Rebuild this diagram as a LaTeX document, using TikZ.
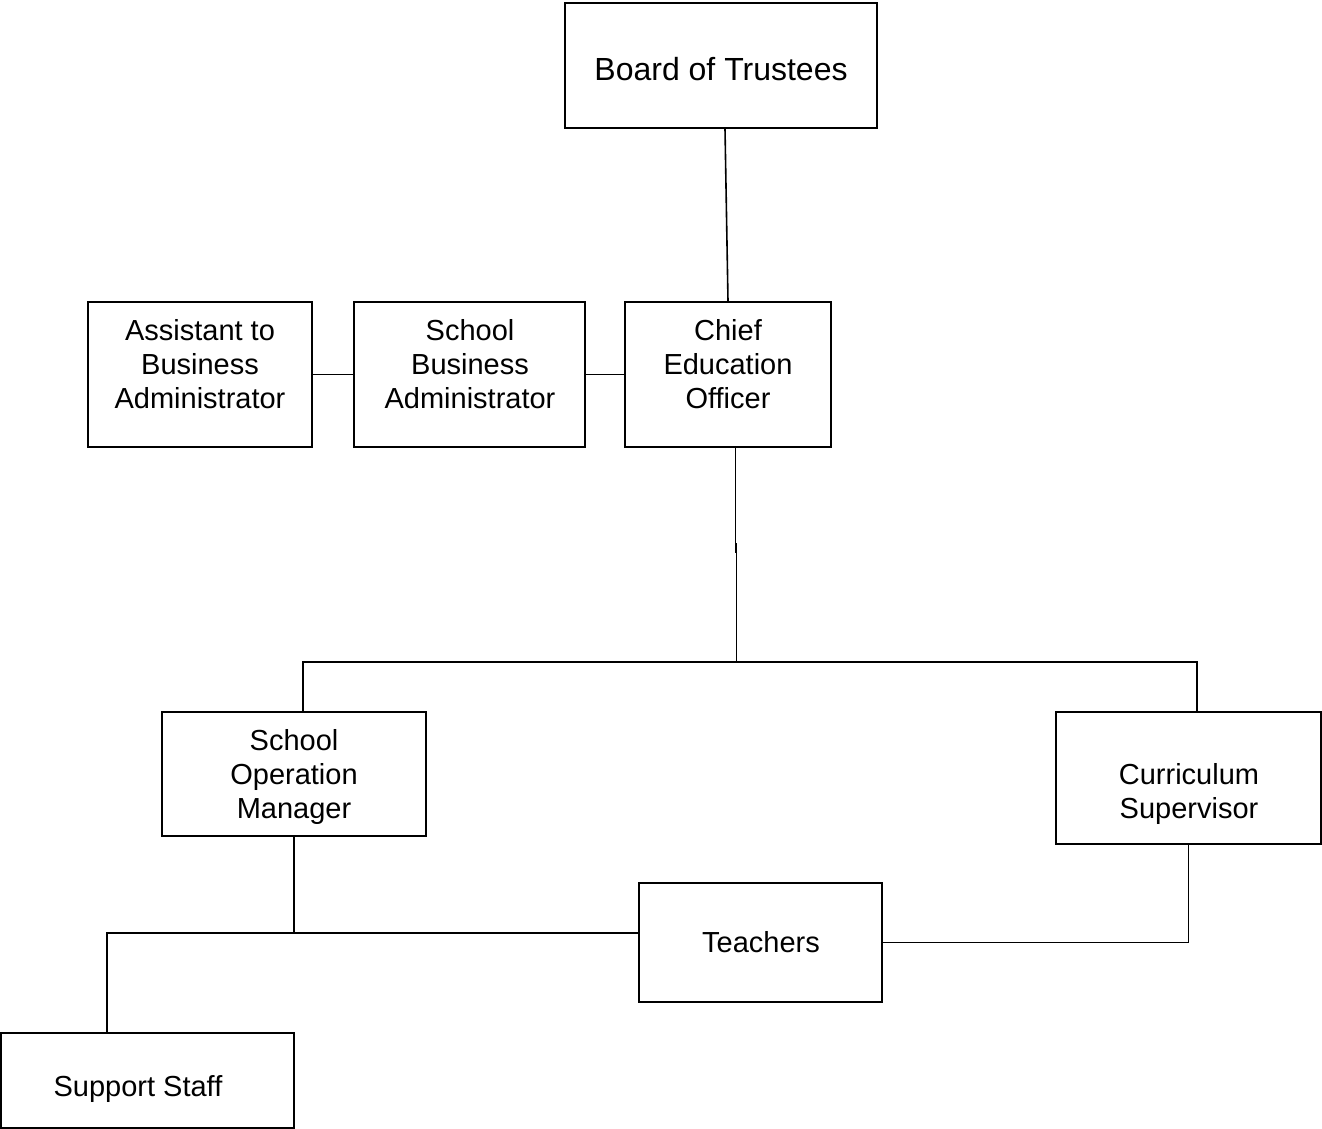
\documentclass[tikz,border=0pt]{standalone}
\usepackage{fontspec}
\setmainfont{Liberation Sans}
\usetikzlibrary{calc}
\tikzset{
  box/.style={draw=black, line width=1.5pt, rectangle, inner sep=0pt},
  txt/.style={align=center, inner sep=0pt, font=\fontsize{29}{34}\selectfont},
  conn/.style={draw=black, line width=1.6pt},
}
\begin{document}
\begin{tikzpicture}[x=1pt,y=-1pt]
\useasboundingbox (0,0) rectangle (1322,1129);
% boxes
\node[box, minimum width=312pt, minimum height=125pt] (bot) at (721,65.5) {};
\node[box, minimum width=224pt, minimum height=145pt] (asst) at (200,374.5) {};
\node[box, minimum width=231pt, minimum height=145pt] (sba) at (469.5,374.5) {};
\node[box, minimum width=206pt, minimum height=145pt] (ceo) at (728,374.5) {};
\node[box, minimum width=264pt, minimum height=124pt] (som) at (294,774) {};
\node[box, minimum width=265pt, minimum height=132pt] (cs) at (1188.5,778) {};
\node[box, minimum width=243pt, minimum height=119pt] (teach) at (760.5,942.5) {};
\node[box, minimum width=293pt, minimum height=95pt] (ss) at (147.5,1080.5) {};
% texts
\node[txt, font=\fontsize{32}{38}\selectfont] (bott) at (721,69) {Board of Trustees};
\node[txt] (asstt) at (200,364) {Assistant to\\Business\\Administrator};
\node[txt] (sbat) at (470,364) {School\\Business\\Administrator};
\node[txt] (ceot) at (728,364) {Chief\\Education\\Officer};
\node[txt] (somt) at (294,777) {School\\Operation\\Manager};
\node[txt] (cst) at (1189,794) {Curriculum\\Supervisor};
\node[txt] (teacht) at (761,942) {Teachers};
\node[txt] (sst) at (138,1089) {Support Staff};
% connectors
\coordinate (br) at (736.5,662);
\coordinate (mid1) at (735.5,553);
\coordinate (mid2) at (736.5,543);
\coordinate (j) at (294,933);
\draw[conn] ($(bot.south)+(4,0)$) -- (ceo.north);
\draw[conn] (asst.east) -- (sba.west);
\draw[conn] (sba.east) -- (ceo.west);
\draw[conn] ($(ceo.south)+(7.5,0)$) -- (mid1);
\draw[conn] (mid2) -- (br);
\draw[conn] ($(som.north)+(9,0)$) |- (br) -| ($(cs.north)+(8.5,0)$);
\draw[conn] (som.south) -- (j);
\draw[conn] (j) -- (j -| teach.west);
\draw[conn] (j) -| ($(ss.north)+(-40.5,0)$);
\draw[conn] (teach.east) -| (cs.south);
\end{tikzpicture}
\end{document}
